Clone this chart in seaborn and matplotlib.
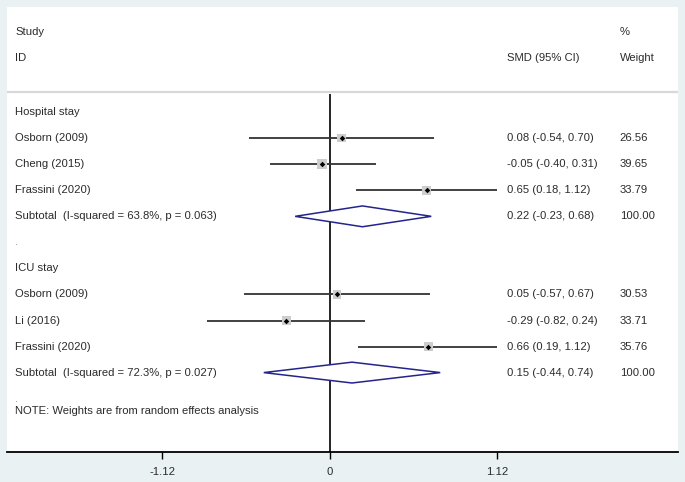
import numpy as np
import pandas as pd
import matplotlib
matplotlib.use("Agg")
import matplotlib.pyplot as plt
import seaborn as sns

# study-level data
groups = ["Hospital stay", "ICU stay"]
study_group = ["Hospital stay", "Hospital stay", "Hospital stay", "ICU stay", "ICU stay", "ICU stay"]
study_ids = ["Osborn (2009)", "Cheng (2015)", "Frassini (2020)", "Osborn (2009)", "Li (2016)", "Frassini (2020)"]
smd = [0.08, -0.05, 0.65, 0.05, -0.29, 0.66]
ci_low = [-0.54, -0.40, 0.18, -0.57, -0.82, 0.19]
ci_high = [0.70, 0.31, 1.12, 0.67, 0.24, 1.12]
weights = [26.56, 39.65, 33.79, 30.53, 33.71, 35.76]

# pooled subtotals
sub_labels = ["Subtotal  (I-squared = 63.8%, p = 0.063)", "Subtotal  (I-squared = 72.3%, p = 0.027)"]
sub_est = [0.22, 0.15]
sub_low = [-0.23, -0.44]
sub_high = [0.68, 0.74]
sub_weight = [100.00, 100.00]

xticks = [-1.12, 0, 1.12]
xtick_labels = ["-1.12", "0", "1.12"]
note = "NOTE: Weights are from random effects analysis"

sns.set_theme(style="white")
plt.rcParams["font.family"] = ["Liberation Sans", "DejaVu Sans"]

TXT = "#2b2b2b"
FS = 8.1

# row layout: group header, studies, subtotal, blank
rows = []
r = 0
for g, s_lab in zip(groups, sub_labels):
    rows.append(("group", g, r))
    r += 1
    for i, sg in enumerate(study_group):
        if sg == g:
            rows.append(("study", i, r))
            r += 1
    rows.append(("sub", groups.index(g), r))
    r += 2
note_row = r - 1 + 0.47

study_rows = [row[2] for row in rows if row[0] == "study"]
df = pd.DataFrame({
    "study": study_ids,
    "smd": smd,
    "low": ci_low,
    "high": ci_high,
    "weight": weights,
    "row": study_rows,
})

fig = plt.figure(figsize=(6.85, 4.82), dpi=100)
fig.patch.set_facecolor("#e9f1f3")
ax = fig.add_axes([7 / 685, 1 - 452 / 482, 671 / 685, 445 / 482])
ax.set_facecolor("white")

# header separator and null line
ax.axhline(-0.79, color="#d8d8d8", lw=1.6, zorder=1)
ax.vlines(0, -0.68, 13.2, color="black", lw=1.2, zorder=2)

# confidence intervals
ax.hlines(df["row"], df["low"], df["high"], color="#333333", lw=1.3, zorder=3)

# weight boxes and point estimates
sns.scatterplot(data=df, x="smd", y="row", size="weight", sizes=(34, 52),
                marker="s", color="#cdcdcd", linewidth=0, legend=False,
                ax=ax, zorder=4)
sns.scatterplot(data=df, x="smd", y="row", marker="D", color="black",
                s=8, linewidth=0, legend=False, ax=ax, zorder=5)

# pooled diamonds
sub_rows = [row[2] for row in rows if row[0] == "sub"]
for k, yr in enumerate(sub_rows):
    xs = [sub_low[k], sub_est[k], sub_high[k], sub_est[k], sub_low[k]]
    ys = [yr, yr - 0.4, yr, yr + 0.4, yr]
    ax.fill(xs, ys, facecolor="white", edgecolor="#24248c", lw=1.1, zorder=4)

# text columns
trans = ax.get_yaxis_transform()
x_lab, x_ci, x_w = 0.0125, 0.745, 0.913
ax.text(x_lab, -3.08, "Study", transform=trans, fontsize=FS, color=TXT, va="center")
ax.text(x_lab, -2.09, "ID", transform=trans, fontsize=FS, color=TXT, va="center")
ax.text(x_ci, -2.09, "SMD (95% CI)", transform=trans, fontsize=FS, color=TXT, va="center")
ax.text(x_w, -3.08, "%", transform=trans, fontsize=FS, color=TXT, va="center")
ax.text(x_w, -2.09, "Weight", transform=trans, fontsize=FS, color=TXT, va="center")

for kind, val, yr in rows:
    if kind == "group":
        ax.text(x_lab, yr, val, transform=trans, fontsize=FS, color=TXT, va="center")
    elif kind == "study":
        ax.text(x_lab, yr, study_ids[val], transform=trans, fontsize=FS, color=TXT, va="center")
        ax.text(x_ci, yr, f"{smd[val]:.2f} ({ci_low[val]:.2f}, {ci_high[val]:.2f})",
                transform=trans, fontsize=FS, color=TXT, va="center")
        ax.text(x_w, yr, f"{weights[val]:.2f}", transform=trans, fontsize=FS, color=TXT, va="center")
    else:
        ax.text(x_lab, yr, sub_labels[val], transform=trans, fontsize=FS, color=TXT, va="center")
        ax.text(x_ci, yr, f"{sub_est[val]:.2f} ({sub_low[val]:.2f}, {sub_high[val]:.2f})",
                transform=trans, fontsize=FS, color=TXT, va="center")
        ax.text(x_w, yr, f"{sub_weight[val]:.2f}", transform=trans, fontsize=FS, color=TXT, va="center")
        ax.text(x_lab, yr + 1, ".", transform=trans, fontsize=FS, color="#8a96a0", va="center")

ax.text(x_lab, note_row, note, transform=trans, fontsize=FS, color=TXT, va="center")

ax.set_xlim(-2.157, 2.330)
ax.set_ylim(13.05, -4.04)
ax.set_xticks(xticks)
ax.set_xticklabels(xtick_labels)
ax.set_yticks([])
ax.set_xlabel("")
ax.set_ylabel("")
ax.tick_params(axis="x", bottom=True, length=5, width=1, color="black",
               labelsize=FS, labelcolor=TXT, pad=6)
for side in ["top", "left", "right"]:
    ax.spines[side].set_visible(False)
ax.spines["bottom"].set_color("black")
ax.spines["bottom"].set_linewidth(1.3)

fig.savefig("out.png", dpi=100, facecolor=fig.get_facecolor())
